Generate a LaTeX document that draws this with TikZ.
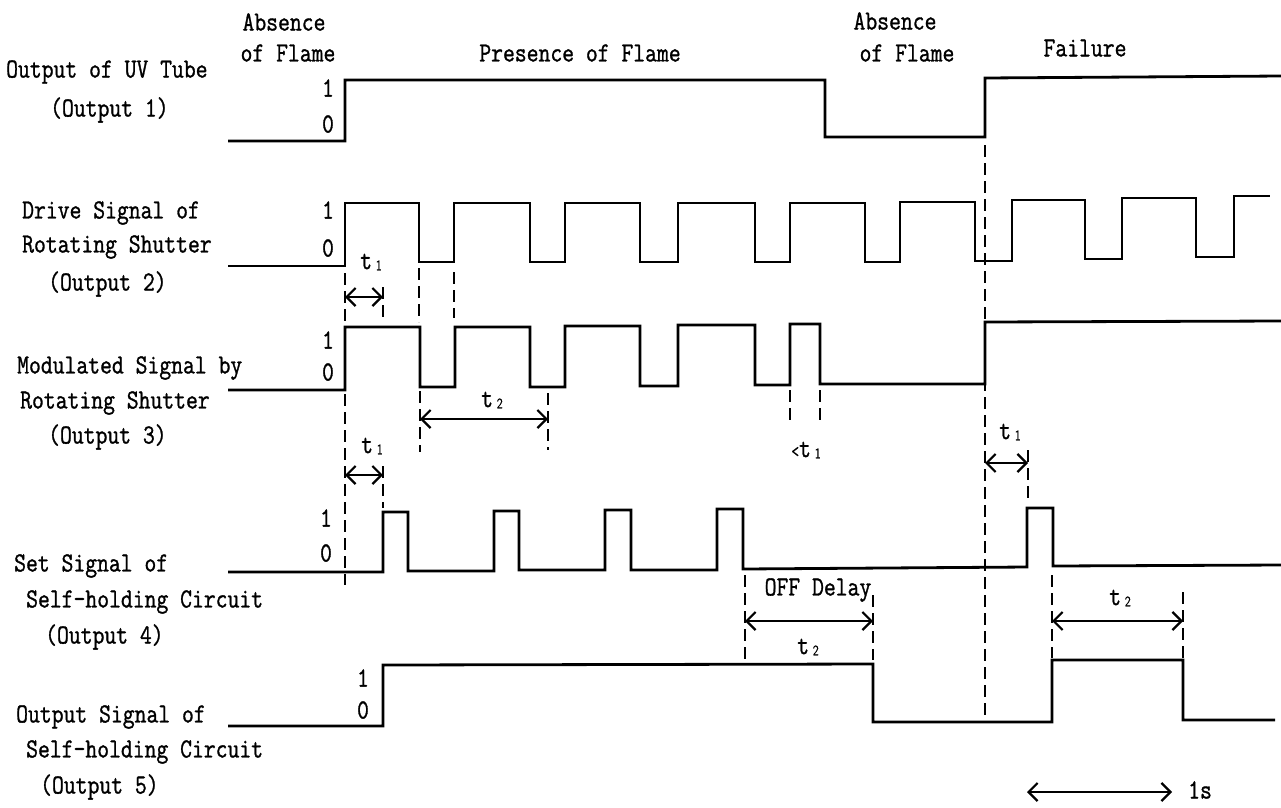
\documentclass[tikz,border=0pt]{standalone}
\usepackage{fontspec}
\usepackage{graphicx}
\usetikzlibrary{arrows.meta}
\newfontfamily\tf{Latin Modern Mono}[FakeBold=1.2]
\newfontfamily\subfam{Latin Modern Sans}[FakeBold=1]
\newcommand\ls[1]{\scalebox{1}[1.2]{#1}}
\newcommand\subn[1]{\raisebox{-1pt}{\subfam\fontsize{12}{12}\selectfont #1}}
\begin{document}
\begin{tikzpicture}[x=1pt,y=-1pt,
  wave/.style={line width=2.8pt, line join=miter},
  guide/.style={line width=2.6pt, dash pattern=on 12pt off 6pt},
  dim/.style={line width=2.2pt, {Straight Barb[length=9pt,width=18pt,line width=2.2pt]}-{Straight Barb[length=9pt,width=18pt,line width=2.2pt]}},
  lbl/.style={font=\tf\fontsize{23}{26}\selectfont, inner sep=0pt},
  ]
\useasboundingbox (0,0) rectangle (1281,807);

% ---------- top labels ----------
\node[lbl] (abs1a) at (284,22) {\ls{Absence}};
\node[lbl] (abs1b) at (288,53) {\ls{of Flame}};
\node[lbl] (pres) at (580,53) {\ls{Presence of Flame}};
\node[lbl] (abs2a) at (895,21) {\ls{Absence}};
\node[lbl] (abs2b) at (907,53) {\ls{of Flame}};
\node[lbl] (fail) at (1085,48) {\ls{Failure}};

% ---------- left labels ----------
\node[lbl,anchor=west] (l1a) at (6,72) {\ls{Output of UV Tube}};
\node[lbl,anchor=west] (l1b) at (50,110) {\ls{(Output 1)}};
\node[lbl,anchor=west] (l2a) at (22,213) {\ls{Drive Signal of}};
\node[lbl,anchor=west] (l2b) at (22,247) {\ls{Rotating Shutter}};
\node[lbl,anchor=west] (l2c) at (48,284) {\ls{(Output 2)}};
\node[lbl,anchor=west] (l3a) at (17,368) {\ls{Modulated Signal by}};
\node[lbl,anchor=west] (l3b) at (20,403) {\ls{Rotating Shutter}};
\node[lbl,anchor=west] (l3c) at (48,437) {\ls{(Output 3)}};
\node[lbl,anchor=west] (l4a) at (14,566) {\ls{Set Signal of}};
\node[lbl,anchor=west] (l4b) at (26,602) {\ls{Self-holding Circuit}};
\node[lbl,anchor=west] (l4c) at (45,637) {\ls{(Output 4)}};
\node[lbl,anchor=west] (l5a) at (16,717) {\ls{Output Signal of}};
\node[lbl,anchor=west] (l5b) at (26,752) {\ls{Self-holding Circuit}};
\node[lbl,anchor=west] (l5c) at (40,787) {\ls{(Output 5)}};

% ---------- level marks ----------
\node[lbl] (h1) at (328,88) {\ls{1}};
\node[lbl] (z1) at (328,124) {\ls{0}};
\node[lbl] (h2) at (328,210) {\ls{1}};
\node[lbl] (z2) at (328,248) {\ls{0}};
\node[lbl] (h3) at (328,340) {\ls{1}};
\node[lbl] (z3) at (328,372) {\ls{0}};
\node[lbl] (h4) at (326,518) {\ls{1}};
\node[lbl] (z4) at (326,553) {\ls{0}};
\node[lbl] (h5) at (363,678) {\ls{1}};
\node[lbl] (z5) at (363,710) {\ls{0}};

% ---------- waveforms ----------
\draw[wave] (228,141) -- (345,141) -- (345,80) -- (825,80) -- (825,137) -- (985,137) -- (985,78) -- (1281,76);
\draw[wave] (228,266) -- (345,266) -- (345,203) -- (419,203) -- (419,262) -- (454,262) -- (454,203) -- (530,203) -- (530,262) -- (565,262) -- (565,203) -- (640,203) -- (640,262) -- (678,262) -- (678,203) -- (755,203) -- (755,262) -- (790,262) -- (790,203) -- (865,203) -- (865,262) -- (900,262) -- (900,202) -- (975,202) -- (975,261) -- (1012,261) -- (1012,200) -- (1085,200) -- (1085,259) -- (1122,259) -- (1122,198) -- (1196,198) -- (1196,257) -- (1234,257) -- (1234,196) -- (1270,196);
\draw[wave] (228,390) -- (345,390) -- (345,327) -- (420,327) -- (420,387) -- (455,387) -- (455,327) -- (530,327) -- (530,387) -- (565,387) -- (565,326) -- (640,326) -- (640,386) -- (678,386) -- (678,325) -- (755,325) -- (755,385) -- (790,385) -- (790,324) -- (820,324) -- (820,384) -- (985,384) -- (985,322) -- (1281,321);
\draw[wave] (228,572) -- (383,572) -- (383,512) -- (408,512) -- (408,571) -- (494,571) -- (494,511) -- (519,511) -- (519,570) -- (605,570) -- (605,510) -- (631,510) -- (631,570) -- (717,570) -- (717,509) -- (743,509) -- (743,569) -- (1027,567) -- (1027,508) -- (1053,508) -- (1053,566) -- (1281,565);
\draw[wave] (228,726) -- (383,726) -- (383,665) -- (873,664) -- (873,722) -- (1052,722) -- (1052,660) -- (1183,660) -- (1183,720) -- (1275,720);

% ---------- guide lines ----------
\draw[guide] (345,273) -- (345,323);
\draw[guide] (383,287) -- (383,322);
\draw[guide] (419,268) -- (419,322);
\draw[guide] (454,272) -- (454,318);
\draw[guide] (345,394) -- (345,585);
\draw[guide] (420,391) -- (420,452);
\draw[guide] (548,393) -- (548,450);
\draw[guide] (383,466) -- (383,508);
\draw[guide] (790,390) -- (790,424);
\draw[guide] (820,390) -- (820,424);
\draw[guide] (985,145) -- (985,715);
\draw[guide] (1028,450) -- (1028,502);
\draw[guide] (745,575) -- (745,660);
\draw[guide] (873,595) -- (873,660);
\draw[guide] (1052,575) -- (1052,658);
\draw[guide] (1183,592) -- (1183,658);

% ---------- dimension arrows ----------
\coordinate (d1a) at (345,297); \coordinate (d1b) at (383,297);
\draw[dim] (d1a) -- (d1b);
\node[lbl] (t1a) at (371,262) {\ls{t\,\subn{1}}};

\coordinate (d2a) at (420,419); \coordinate (d2b) at (548,419);
\draw[dim] (d2a) -- (d2b);
\node[lbl] (t2a) at (492,400) {\ls{t\,\subn{2}}};

\coordinate (d3a) at (345,475); \coordinate (d3b) at (383,475);
\draw[dim] (d3a) -- (d3b);
\node[lbl] (t1b) at (372,446) {\ls{t\,\subn{1}}};

\node[lbl] (lt1) at (806,450) {\ls{{\fontsize{15}{15}\selectfont<}t\,\subn{1}}};

\coordinate (d4a) at (985,463); \coordinate (d4b) at (1028,463);
\draw[dim] (d4a) -- (d4b);
\node[lbl] (t1c) at (1010,432) {\ls{t\,\subn{1}}};

\node[lbl] (offd) at (818,590) {\ls{OFF Delay}};
\coordinate (d5a) at (745,621); \coordinate (d5b) at (873,621);
\draw[dim] (d5a) -- (d5b);
\node[lbl] (t2b) at (808,647) {\ls{t\,\subn{2}}};

\coordinate (d6a) at (1052,621); \coordinate (d6b) at (1183,621);
\draw[dim] (d6a) -- (d6b);
\node[lbl] (t2c) at (1120,598) {\ls{t\,\subn{2}}};

\coordinate (d7a) at (1027,792); \coordinate (d7b) at (1172,792);
\draw[dim] (d7a) -- (d7b);
\node[lbl,anchor=west] (ones) at (1188,790) {\ls{1s}};
\end{tikzpicture}
\end{document}
